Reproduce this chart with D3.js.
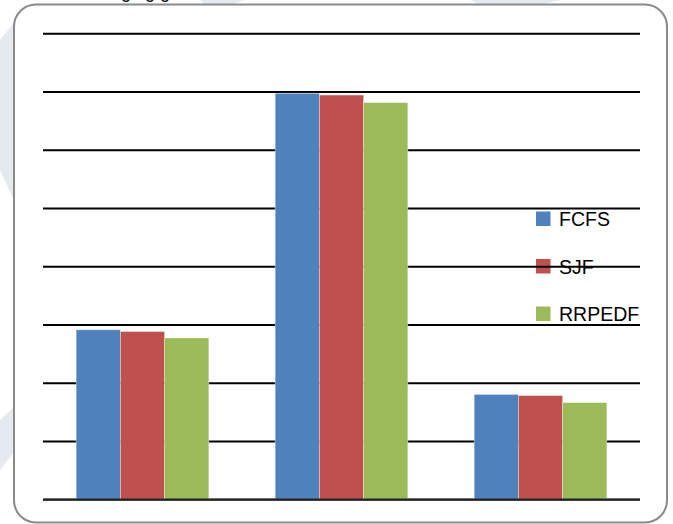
<!DOCTYPE html>
<html>
<head>
<meta charset="utf-8">
<script src="https://cdn.jsdelivr.net/npm/d3@7"></script>
<style>
  html, body { margin: 0; padding: 0; background: #fff; }
  svg { display: block; }
</style>
</head>
<body>
<svg id="chart" width="673" height="524"></svg>
<script>
// ---- data ----
const categories = ["Case 1", "Case 2", "Case 3"];
const seriesNames = ["FCFS", "SJF", "RRPEDF"];
const FCFS   = [2.91, 6.97, 1.80];
const SJF    = [2.88, 6.94, 1.78];
const RRPEDF = [2.77, 6.81, 1.66];
const yTicks = [0, 1, 2, 3, 4, 5, 6, 7, 8];
const colors = ["#4F81BD", "#C0504D", "#9BBB59"];

const seriesValues = [FCFS, SJF, RRPEDF];
const rows = categories.map((c, i) => ({
  cat: c,
  vals: seriesNames.map((s, k) => ({ key: s, value: seriesValues[k][i], color: colors[k] }))
}));

const svg = d3.select("#chart");

// faint watermark shapes outside frame
const wm = svg.append("g").attr("fill", "#dfe5ec").attr("opacity", 0.8);
wm.append("path").attr("d", "M0,40 L16,20 L16,205 L0,170 Z");
wm.append("path").attr("d", "M0,420 L16,405 L16,450 L0,470 Z");
wm.append("path").attr("d", "M200,0 L245,0 L230,5 L205,5 Z");
wm.append("path").attr("d", "M470,0 L560,0 L540,5 L480,5 Z");

// clipped caption text from page above
svg.append("text")
  .attr("x", 121).attr("y", -2.5)
  .attr("font-family", "Liberation Sans, Arial, sans-serif")
  .attr("font-size", 18)
  .attr("fill", "#111")
  .text("ging g");

// frame
svg.append("rect")
  .attr("x", 14).attr("y", 4.5)
  .attr("width", 653).attr("height", 518)
  .attr("rx", 22).attr("ry", 22)
  .attr("fill", "#fff")
  .attr("stroke", "#8a8a8a")
  .attr("stroke-width", 2);

// scales
const x0 = d3.scaleBand().domain(categories).range([43, 640]).paddingInner(0).paddingOuter(0);
const barGroupWidth = x0.bandwidth() * 2 / 3;
const x1 = d3.scaleBand().domain(seriesNames).range([0, barGroupWidth]).padding(0);
const y = d3.scaleLinear().domain([0, 8]).range([499.3, 33.3]);

// legend (drawn below gridlines)
const legend = svg.append("g").attr("font-family", "Liberation Sans, Arial, sans-serif");
seriesNames.forEach((s, k) => {
  const yy = 226 + k * 47.5;
  legend.append("rect")
    .attr("x", 536).attr("y", yy - 14.5)
    .attr("width", 14.5).attr("height", 14.5)
    .attr("fill", colors[k]);
  legend.append("text")
    .attr("x", 559).attr("y", yy)
    .attr("font-size", 19.5)
    .attr("fill", "#000")
    .text(s);
});

// gridlines via axis
const grid = svg.append("g")
  .attr("transform", "translate(43,0)")
  .call(d3.axisLeft(y).tickValues(yTicks).tickSize(-(640 - 43)).tickFormat(""));
grid.select(".domain").remove();
grid.selectAll(".tick line").attr("stroke", "#000").attr("stroke-width", 2);

// bars
const groups = svg.append("g").selectAll("g")
  .data(rows).join("g")
  .attr("transform", d => `translate(${x0(d.cat) + (x0.bandwidth() - barGroupWidth) / 2},0)`);

groups.selectAll("rect")
  .data(d => d.vals).join("rect")
  .attr("x", d => x1(d.key))
  .attr("width", x1.bandwidth())
  .attr("y", d => y(d.value))
  .attr("height", d => y(0) - y(d.value))
  .attr("fill", d => d.color)
  .attr("stroke", "rgba(255,255,255,0.45)")
  .attr("stroke-width", 0.8);

// baseline
svg.append("line")
  .attr("x1", 43).attr("x2", 640)
  .attr("y1", y(0)).attr("y2", y(0))
  .attr("stroke", "#222").attr("stroke-width", 1.5);
</script>
</body>
</html>
